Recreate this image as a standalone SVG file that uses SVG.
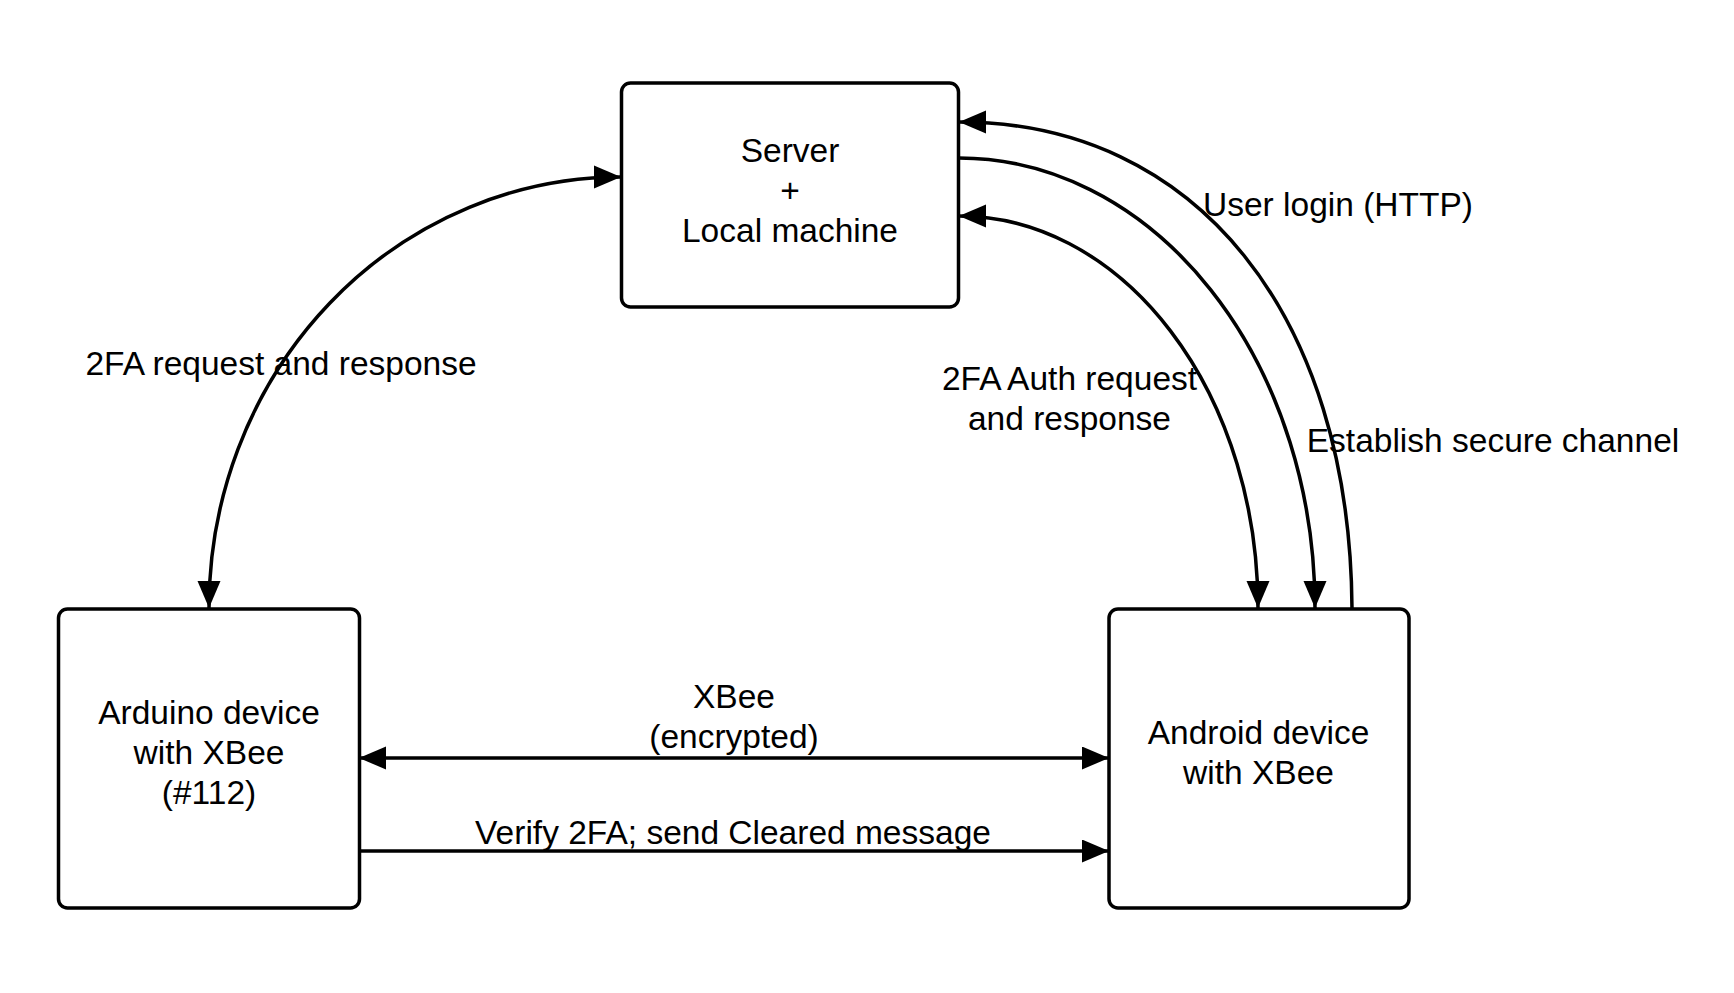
<svg xmlns="http://www.w3.org/2000/svg" width="1734" height="993" viewBox="0 0 1734 993">
<style>
.box{fill:#fff;stroke:#000;stroke-width:3.5}
.edge{fill:none;stroke:#000;stroke-width:3.5}
text{font-family:"Liberation Sans",Arial,sans-serif;font-size:33.5px;fill:#000;text-anchor:middle}
</style>
<defs>
<marker id="arr" markerUnits="userSpaceOnUse" markerWidth="28" markerHeight="24" refX="27" refY="11.5" orient="auto-start-reverse">
<path d="M0,0 L27,11.5 L0,23 z" fill="#000"/>
</marker>
</defs>
<rect width="1734" height="993" fill="#fff"/>
<g id="connectors">
<path class="edge" d="M 209 608 A 412 431 0 0 1 621 177" marker-start="url(#arr)" marker-end="url(#arr)"/>
<path class="edge" d="M 959 216 A 299 392 0 0 1 1258 608" marker-start="url(#arr)" marker-end="url(#arr)"/>
<path class="edge" d="M 959 158 A 356 450 0 0 1 1315 608" marker-end="url(#arr)"/>
<path class="edge" d="M 1352 608 C 1350 316 1197 122 959 122" marker-end="url(#arr)"/>
<path class="edge" d="M 359 758 L 1109 758" marker-start="url(#arr)" marker-end="url(#arr)"/>
<path class="edge" d="M 359 851 L 1109 851" marker-end="url(#arr)"/>
<text x="281" y="375">2FA request and response</text>
<text x="1069.5" y="390">2FA Auth request</text>
<text x="1069.5" y="430">and response</text>
<text x="1338" y="216">User login (HTTP)</text>
<text x="1493" y="452">Establish secure channel</text>
<text x="734" y="708">XBee</text>
<text x="734" y="748">(encrypted)</text>
<text x="733" y="844">Verify 2FA; send Cleared message</text>
</g>
<g id="server">
<rect class="box" x="621.5" y="83" width="337" height="224" rx="9"/>
<text x="790" y="162">Server</text>
<text x="790" y="202">+</text>
<text x="790" y="242">Local machine</text>
</g>
<g id="arduino">
<rect class="box" x="58.5" y="609" width="301" height="299" rx="9"/>
<text x="209" y="724">Arduino device</text>
<text x="209" y="764">with XBee</text>
<text x="209" y="804">(#112)</text>
</g>
<g id="android">
<rect class="box" x="1109" y="609" width="300" height="299" rx="9"/>
<text x="1258.5" y="744">Android device</text>
<text x="1258.5" y="784">with XBee</text>
</g>
</svg>
